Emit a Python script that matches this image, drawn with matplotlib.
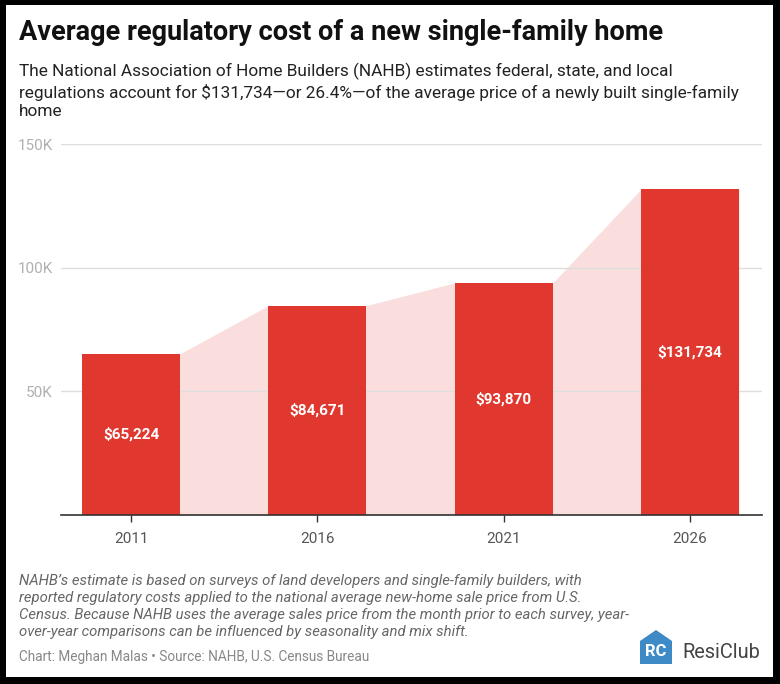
import matplotlib.pyplot as plt
import matplotlib.patches as patches
import numpy as np

years = ['2011', '2016', '2021', '2026']
costs = [65224, 84671, 93870, 131734]
bar_labels = ['$65,224', '$84,671', '$93,870', '$131,734']
yticks = [50000, 100000, 150000]
ytick_labels = ['50K', '100K', '150K']

title = 'Average regulatory cost of a new single-family home'
subtitle = ('The National Association of Home Builders (NAHB) estimates federal, state, and local\n'
            'regulations account for $131,734\u2014or 26.4%\u2014of the average price of a newly built single-family\n'
            'home')
note = ('NAHB\u2019s estimate is based on surveys of land developers and single-family builders, with\n'
        'reported regulatory costs applied to the national average new-home sale price from U.S.\n'
        'Census. Because NAHB uses the average sales price from the month prior to each survey, year-\n'
        'over-year comparisons can be influenced by seasonality and mix shift.')
source = 'Chart: Meghan Malas \u2022 Source: NAHB, U.S. Census Bureau'

W, H = 780, 684
bar_red = '#e0382e'
fill_pink = '#fadedd'

plt.rcParams['font.family'] = ['Roboto', 'DejaVu Sans']

fig = plt.figure(figsize=(W / 100, H / 100), dpi=100)
fig.patch.set_facecolor('black')
# white card inside the black frame
fig.patches.append(patches.Rectangle((6 / W, 7 / H), 767 / W, 672 / H,
                                     transform=fig.transFigure, facecolor='white',
                                     edgecolor='none', zorder=-10))

def fx(px):
    return px / W

def fy(py):
    return 1 - py / H

ax = fig.add_axes([fx(61), fy(515), fx(762) - fx(61), fy(144) - fy(515)])
ax.set_facecolor('none')

x = np.arange(len(years))
bw = 0.526

# connecting area between bar tops
xs, ys = [], []
for i, v in enumerate(costs):
    xs += [x[i] - bw / 2, x[i] + bw / 2]
    ys += [v, v]
ax.fill_between(xs, ys, 0, color=fill_pink, lw=0, zorder=1)

for yv in yticks:
    ax.axhline(yv, color='#dedede', lw=1, zorder=2)

ax.bar(x, costs, width=bw, color=bar_red, zorder=3)
for i, v in enumerate(costs):
    ax.text(x[i], v / 2, bar_labels[i], ha='center', va='center', color='white',
            fontsize=11, fontweight='bold', zorder=4)

ax.set_xlim(-0.376, 3.386)
ax.set_ylim(0, 150000)
for s in ['top', 'right', 'left']:
    ax.spines[s].set_visible(False)
ax.spines['bottom'].set_color('#333333')
ax.spines['bottom'].set_linewidth(1.2)
ax.spines['bottom'].set_zorder(5)

ax.set_xticks(x)
ax.set_xticklabels(years, color='#555555', fontsize=11)
ax.tick_params(axis='x', length=5, width=1, color='#333333', pad=7)
ax.set_yticks(yticks)
ax.set_yticklabels(ytick_labels, color='#b0b0b0', fontsize=11)
ax.tick_params(axis='y', length=0, pad=6)

fig.text(fx(19), fy(33), title, fontsize=19.5, fontweight='bold', color='#111111',
         va='center', ha='left')
fig.text(fx(19), fy(63), subtitle, fontsize=12.4, color='#222222', va='top', ha='left',
         linespacing=1.24)
fig.text(fx(19), fy(574), note, fontsize=10.7, style='italic', color='#666666',
         va='top', ha='left', linespacing=1.26)
fig.text(fx(19), fy(657), source, fontsize=9.85, color='#888888', va='center', ha='left')

# ResiClub logo
logo_blue = '#3d8ac6'
house = patches.Polygon([[fx(640), fy(664)], [fx(640), fy(641)], [fx(656), fy(630)],
                         [fx(672), fy(641)], [fx(672), fy(664)]],
                        closed=True, transform=fig.transFigure, facecolor=logo_blue,
                        edgecolor='none', zorder=5)
fig.patches.append(house)
fig.text(fx(656), fy(652), 'RC', fontsize=12, fontweight='bold', color='white',
         ha='center', va='center', zorder=6)
fig.text(fx(682), fy(653), 'ResiClub', fontsize=14.4, color='#444444', ha='left', va='center')

fig.savefig('out.png', dpi=100, facecolor=fig.get_facecolor())
